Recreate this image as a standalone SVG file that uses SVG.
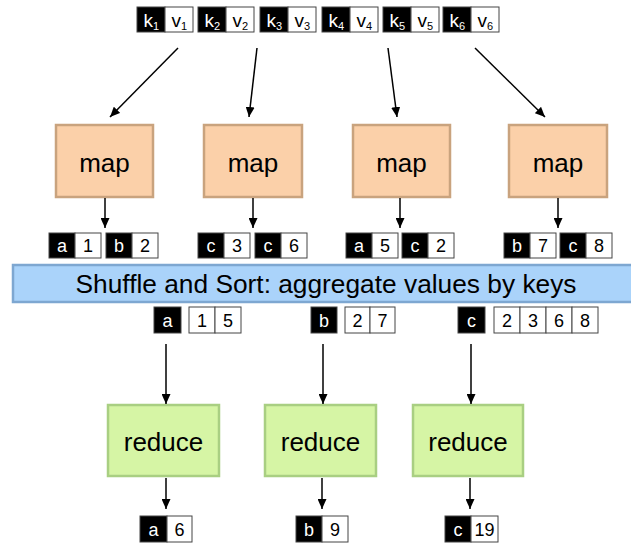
<svg xmlns="http://www.w3.org/2000/svg" width="631" height="545" viewBox="0 0 631 545">
<defs>
<style>
text{font-family:"Liberation Sans",Arial,sans-serif}
.kb{fill:#000;stroke:#444;stroke-width:1}
.vb{fill:#fff;stroke:#444;stroke-width:1}
.kt{fill:#fff;font-size:18px;text-anchor:middle}
.vt{fill:#000;font-size:18px;text-anchor:middle}
.tk{fill:#fff;font-size:19px}
.tv{fill:#000;font-size:19px}
.sub{font-size:11px}
.map{fill:#fbd0a9;stroke:#c9a37e;stroke-width:2.5}
.red{fill:#d6f5a5;stroke:#a9cf82;stroke-width:2.5}
.lbl{font-size:26px;text-anchor:middle;fill:#000}
.edge{stroke:#000;stroke-width:1.5;fill:none;marker-end:url(#ah)}
</style>
<marker id="ah" markerUnits="userSpaceOnUse" markerWidth="11" markerHeight="9" refX="10" refY="4.5" orient="auto">
<path d="M0,0 L10,4.5 L0,9 z" fill="#000"/>
</marker>
</defs>
<rect width="631" height="545" fill="#fff"/>

<g id="inputs">
<g id="in1"><rect class="kb" x="137" y="7" width="28" height="25"/><rect class="vb" x="165" y="7" width="28" height="25"/><text class="tk" x="143.5" y="27">k<tspan class="sub" dy="3">1</tspan></text><text class="tv" x="171.5" y="27">v<tspan class="sub" dy="3">1</tspan></text></g>
<g id="in2"><rect class="kb" x="198" y="7" width="28" height="25"/><rect class="vb" x="226" y="7" width="28" height="25"/><text class="tk" x="204.5" y="27">k<tspan class="sub" dy="3">2</tspan></text><text class="tv" x="232.5" y="27">v<tspan class="sub" dy="3">2</tspan></text></g>
<g id="in3"><rect class="kb" x="260" y="7" width="28" height="25"/><rect class="vb" x="288" y="7" width="28" height="25"/><text class="tk" x="266.5" y="27">k<tspan class="sub" dy="3">3</tspan></text><text class="tv" x="294.5" y="27">v<tspan class="sub" dy="3">3</tspan></text></g>
<g id="in4"><rect class="kb" x="322" y="7" width="28" height="25"/><rect class="vb" x="350" y="7" width="28" height="25"/><text class="tk" x="328.5" y="27">k<tspan class="sub" dy="3">4</tspan></text><text class="tv" x="356.5" y="27">v<tspan class="sub" dy="3">4</tspan></text></g>
<g id="in5"><rect class="kb" x="383" y="7" width="28" height="25"/><rect class="vb" x="411" y="7" width="28" height="25"/><text class="tk" x="389.5" y="27">k<tspan class="sub" dy="3">5</tspan></text><text class="tv" x="417.5" y="27">v<tspan class="sub" dy="3">5</tspan></text></g>
<g id="in6"><rect class="kb" x="443" y="7" width="28" height="25"/><rect class="vb" x="471" y="7" width="28" height="25"/><text class="tk" x="449.5" y="27">k<tspan class="sub" dy="3">6</tspan></text><text class="tv" x="477.5" y="27">v<tspan class="sub" dy="3">6</tspan></text></g>
</g>

<g id="map1"><rect class="map" x="56" y="125" width="97" height="72"/><text class="lbl" x="104.5" y="172">map</text></g>
<g id="map2"><rect class="map" x="204" y="125" width="98" height="72"/><text class="lbl" x="253" y="172">map</text></g>
<g id="map3"><rect class="map" x="353" y="125" width="97" height="72"/><text class="lbl" x="401.5" y="172">map</text></g>
<g id="map4"><rect class="map" x="509" y="125" width="98" height="72"/><text class="lbl" x="558" y="172">map</text></g>

<g id="mapout">
<rect class="kb" x="49" y="233" width="26" height="25"/><rect class="vb" x="75" y="233" width="26" height="25"/><text class="kt" x="62" y="252">a</text><text class="vt" x="88" y="252">1</text>
<rect class="kb" x="106" y="233" width="26" height="25"/><rect class="vb" x="132" y="233" width="26" height="25"/><text class="kt" x="119" y="252">b</text><text class="vt" x="145" y="252">2</text>
<rect class="kb" x="198" y="233" width="26" height="25"/><rect class="vb" x="224" y="233" width="26" height="25"/><text class="kt" x="211" y="252">c</text><text class="vt" x="237" y="252">3</text>
<rect class="kb" x="255" y="233" width="26" height="25"/><rect class="vb" x="281" y="233" width="26" height="25"/><text class="kt" x="268" y="252">c</text><text class="vt" x="294" y="252">6</text>
<rect class="kb" x="346" y="233" width="26" height="25"/><rect class="vb" x="372" y="233" width="26" height="25"/><text class="kt" x="359" y="252">a</text><text class="vt" x="385" y="252">5</text>
<rect class="kb" x="402" y="233" width="26" height="25"/><rect class="vb" x="428" y="233" width="26" height="25"/><text class="kt" x="415" y="252">c</text><text class="vt" x="441" y="252">2</text>
<rect class="kb" x="504" y="233" width="26" height="25"/><rect class="vb" x="530" y="233" width="26" height="25"/><text class="kt" x="517" y="252">b</text><text class="vt" x="543" y="252">7</text>
<rect class="kb" x="560" y="233" width="26" height="25"/><rect class="vb" x="586" y="233" width="26" height="25"/><text class="kt" x="573" y="252">c</text><text class="vt" x="599" y="252">8</text>
</g>

<g id="shuffle"><rect x="13" y="265" width="630" height="37" fill="#aad3fa" stroke="#7ea7d1" stroke-width="2.5"/><text x="326" y="293" font-size="26.3" text-anchor="middle" fill="#000">Shuffle and Sort: aggregate values by keys</text></g>

<g id="grouped">
<rect class="kb" x="154" y="307" width="27" height="26"/><text class="kt" x="167.5" y="326.5">a</text>
<rect class="vb" x="189" y="307" width="26" height="26"/><rect class="vb" x="215" y="307" width="26" height="26"/><text class="vt" x="202" y="326.5">1</text><text class="vt" x="228" y="326.5">5</text>
<rect class="kb" x="311" y="307" width="26" height="26"/><text class="kt" x="324" y="326.5">b</text>
<rect class="vb" x="345" y="307" width="25" height="26"/><rect class="vb" x="370" y="307" width="25" height="26"/><text class="vt" x="357.5" y="326.5">2</text><text class="vt" x="382.5" y="326.5">7</text>
<rect class="kb" x="458" y="307" width="27" height="26"/><text class="kt" x="471.5" y="326.5">c</text>
<rect class="vb" x="494" y="307" width="26" height="26"/><rect class="vb" x="520" y="307" width="26" height="26"/><rect class="vb" x="546" y="307" width="26" height="26"/><rect class="vb" x="572" y="307" width="26" height="26"/>
<text class="vt" x="507" y="326.5">2</text><text class="vt" x="533" y="326.5">3</text><text class="vt" x="559" y="326.5">6</text><text class="vt" x="585" y="326.5">8</text>
</g>

<g id="reduce1"><rect class="red" x="108" y="405" width="111" height="71"/><text class="lbl" x="163.5" y="451">reduce</text></g>
<g id="reduce2"><rect class="red" x="265" y="405" width="111" height="71"/><text class="lbl" x="320.5" y="451">reduce</text></g>
<g id="reduce3"><rect class="red" x="413" y="405" width="110" height="71"/><text class="lbl" x="468" y="451">reduce</text></g>

<g id="outputs">
<rect class="kb" x="140" y="516" width="27" height="26"/><rect class="vb" x="167" y="516" width="25" height="26"/><text class="kt" x="153.5" y="535.5">a</text><text class="vt" x="179.5" y="535.5">6</text>
<rect class="kb" x="296" y="516" width="26" height="26"/><rect class="vb" x="322" y="516" width="26" height="26"/><text class="kt" x="309" y="535.5">b</text><text class="vt" x="335" y="535.5">9</text>
<rect class="kb" x="445" y="516" width="26" height="26"/><rect class="vb" x="471" y="516" width="27" height="26"/><text class="kt" x="458" y="535.5">c</text><text class="vt" x="484.5" y="535.5">19</text>
</g>

<g id="connectors">
<line class="edge" x1="178" y1="48" x2="110" y2="117"/>
<line class="edge" x1="257" y1="48" x2="249" y2="117"/>
<line class="edge" x1="388" y1="48" x2="397" y2="117"/>
<line class="edge" x1="475" y1="48" x2="545" y2="117"/>
<line class="edge" x1="105" y1="198" x2="105" y2="228"/>
<line class="edge" x1="253" y1="198" x2="253" y2="228"/>
<line class="edge" x1="400" y1="198" x2="400" y2="228"/>
<line class="edge" x1="558" y1="198" x2="558" y2="228"/>
<line class="edge" x1="166" y1="344" x2="166" y2="404"/>
<line class="edge" x1="323" y1="344" x2="323" y2="404"/>
<line class="edge" x1="471" y1="344" x2="471" y2="404"/>
<line class="edge" x1="166" y1="478" x2="166" y2="509"/>
<line class="edge" x1="322" y1="478" x2="322" y2="509"/>
<line class="edge" x1="470" y1="478" x2="470" y2="509"/>
</g>
</svg>
